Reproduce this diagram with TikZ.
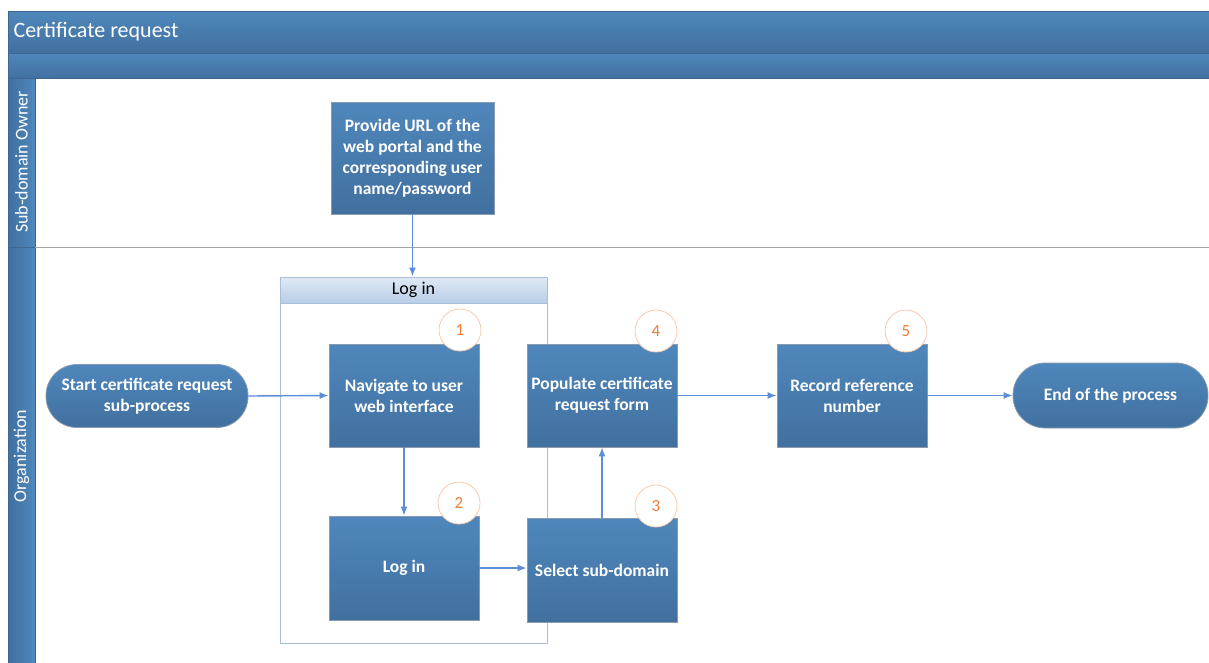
\documentclass[tikz,border=0pt]{standalone}
\usepackage{fontspec}
\setmainfont{Carlito}
\usetikzlibrary{arrows.meta}
\definecolor{btop}{HTML}{4F87BC}
\definecolor{bbot}{HTML}{41709F}
\definecolor{bbord}{HTML}{8A9BB0}
\definecolor{arr}{HTML}{5B8ED6}
\definecolor{orng}{HTML}{ED7D31}
\definecolor{orngl}{HTML}{F8CBAD}
\definecolor{hdrtop}{HTML}{DFE9F4}
\definecolor{hdrbot}{HTML}{B8CEE7}
\definecolor{frm}{HTML}{A9BFD9}
\definecolor{bardark}{HTML}{3F6791}
\tikzset{
  stepbox/.style={draw=bbord, line width=0.8pt, top color=btop, bottom color=bbot,
    minimum width=150pt, minimum height=103pt, inner sep=2pt, align=center,
    text=white, font=\fontsize{17.5}{21}\selectfont\bfseries},
  terminal/.style={draw=bbord, line width=0.8pt, top color=btop, bottom color=bbot,
    rounded corners=31pt, minimum height=63pt, inner sep=2pt, align=center,
    text=white, font=\fontsize{17.5}{21}\selectfont\bfseries},
  numc/.style={circle, draw=orngl, line width=0.8pt, fill=white, minimum size=42pt,
    inner sep=0pt, text=orng, font=\fontsize{17}{17}\selectfont},
  flow/.style={draw=arr, line width=1.4pt, -{Latex[length=9pt,width=7pt]}},
  lanelbl/.style={text=white, font=\fontsize{18}{18}\selectfont, rotate=90}
}
\begin{document}
\begin{tikzpicture}[x=1pt,y=-1pt]
\useasboundingbox (0,0) rectangle (1209,662);
% header bars
\path[draw=bardark, line width=0.8pt, top color=btop, bottom color=bbot] (8,11) rectangle (1212,53);
\path[draw=bardark, line width=0.8pt, top color=btop, bottom color=bbot] (8,53) rectangle (1212,78);
\node[anchor=west, text=white, font=\fontsize{22}{22}\selectfont] (title) at (10,32) {Certificate request};
% lane column
\path[draw=bardark, line width=0.6pt, left color=bbot, right color=btop] (8,78) rectangle (35,665);
\draw[bardark, line width=0.6pt] (8,247) -- (35,247);
\draw[black!35, line width=0.8pt] (35,247) -- (1212,247);
\node[lanelbl] (lane1) at (21.5,162) {Sub-domain Owner};
\node[lanelbl] (lane2) at (21.5,456) {Organization};
% Log in container
\node[draw=frm, line width=1pt, minimum width=267pt, minimum height=366pt, inner sep=0pt] (frame) at (413.5,460) {};
\node[draw=frm, line width=1pt, top color=hdrtop, bottom color=hdrbot, minimum width=267pt, minimum height=26pt, inner sep=0pt, font=\fontsize{18}{18}\selectfont] (lhead) at (413.5,290) {Log in};
% boxes
\node[stepbox, minimum width=163pt, minimum height=112pt] (prov) at (412.5,158) {Provide URL of the\\web portal and the\\corresponding user\\name/password};
\node[stepbox] (nav) at (404,395.5) {Navigate to user\\web interface};
\node[stepbox, minimum height=104pt] (lg) at (404,568) {Log in};
\node[stepbox] (pop) at (602,395.5) {Populate certificate\\request form};
\node[stepbox, minimum height=104pt] (sel) at (602,570) {Select sub-domain};
\node[stepbox] (rec) at (852,395.5) {Record reference\\number};
\node[terminal, minimum width=202pt] (start) at (147,396) {Start certificate request\\sub-process};
\node[terminal, minimum width=195pt, minimum height=65pt, rounded corners=32pt] (end) at (1110.5,395.5) {End of the process};
% number circles
\node[numc] (c1) at (460,330) {1};
\node[numc] (c2) at (459,503) {2};
\node[numc] (c3) at (656,506) {3};
\node[numc] (c4) at (656,331) {4};
\node[numc] (c5) at (906,331) {5};
% connectors
\draw[flow] (prov.south) -- (prov.south |- lhead.north);
\draw[flow] (start.east) -- (nav.west);
\draw[flow] (nav.south) -- (nav.south |- lg.north);
\draw[flow] (lg.east) -- (lg.east -| sel.west);
\draw[flow] (sel.north) -- (pop.south);
\draw[flow] (pop.east) -- (rec.west);
\draw[flow] (rec.east) -- (end.west);
\end{tikzpicture}
\end{document}
